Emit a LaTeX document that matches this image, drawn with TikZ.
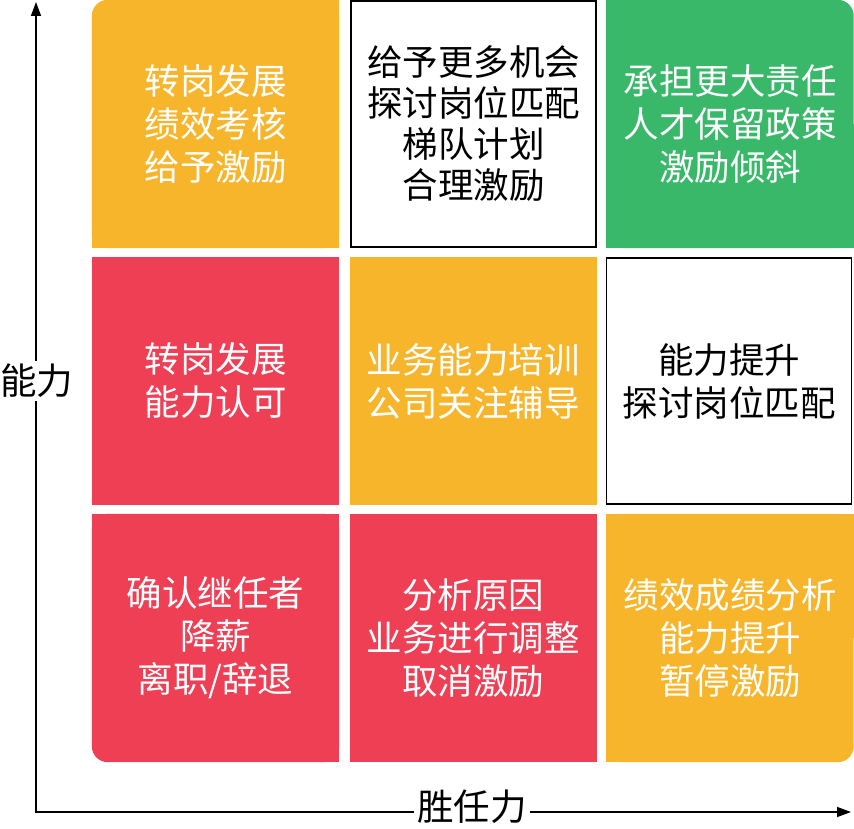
\documentclass[tikz,border=0pt]{standalone}
\usepackage{fontspec}
\newfontfamily\cjk{Noto Sans CJK SC}
\usetikzlibrary{arrows.meta,backgrounds}
\definecolor{cellorange}{HTML}{F7B52B}
\definecolor{cellred}{HTML}{EE3F55}
\definecolor{cellgreen}{HTML}{3AB86A}

\begin{document}
\begin{tikzpicture}[x=1pt, y=-1pt,
    cell/.style={minimum width=247pt, minimum height=248pt, inner sep=0pt, align=center,
        font=\cjk\fontsize{35.5}{43}\selectfont, text=white},
    warm/.style={cell, fill=cellorange},
    hot/.style={cell, fill=cellred},
    plain/.style={cell, text=black, fill=white, draw=black, line width=1.6pt,
        minimum width=245pt, minimum height=246pt},
    axis/.style={line width=1.4pt, {Triangle[length=14pt,width=10pt]}-{Triangle[length=14pt,width=10pt]}},
    axislabel/.style={fill=white, inner sep=3pt, font=\cjk\fontsize{36.5}{40}\selectfont}]
    \useasboundingbox (0,0) rectangle (854,829);

    % Draw the axes
    \coordinate (ytop) at (36,2);
    \coordinate (xend) at (851,812);
    \draw[axis] (ytop) |- (xend);
    \node[axislabel] (ylabel) at (37,381) {能力};
    \node[axislabel] (xlabel) at (472,807) {胜任力};

    % Draw the nine cells
    \node[cell] (c11) at (215.5,124) {转岗发展\\绩效考核\\给予激励};
    \node[plain, font=\cjk\fontsize{35.5}{41}\selectfont] (c12) at (473.5,124)
        {给予更多机会\\探讨岗位匹配\\梯队计划\\合理激励};
    \node[cell] (c13) at (730,124) {承担更大责任\\人才保留政策\\激励倾斜};
    \node[hot] (c21) at (215.5,381) {转岗发展\\能力认可};
    \node[warm] (c22) at (473,381) {业务能力培训\\公司关注辅导};
    \node[plain] (c23) at (729,381) {能力提升\\探讨岗位匹配};
    \node[cell] (c31) at (215.5,638) {确认继任者\\降薪\\离职/辞退};
    \node[hot] (c32) at (473,638) {分析原因\\业务进行调整\\取消激励};
    \node[cell] (c33) at (730,638) {绩效成绩分析\\能力提升\\暂停激励};

    % Fill the corner cells, rounded on the outside only
    \begin{scope}[on background layer]
        \fill[cellorange, rounded corners=16pt] (c11.south west) rectangle (c11.north east);
        \fill[cellorange] (c11.north) rectangle (c11.south east);
        \fill[cellorange] (c11.west) rectangle (c11.south east);

        \fill[cellgreen, rounded corners=16pt] (c13.south west) rectangle (c13.north east);
        \fill[cellgreen] (c13.north west) rectangle (c13.south);
        \fill[cellgreen] (c13.west) rectangle (c13.south east);

        \fill[cellred, rounded corners=16pt] (c31.south west) rectangle (c31.north east);
        \fill[cellred] (c31.north west) rectangle (c31.east);
        \fill[cellred] (c31.north) rectangle (c31.south east);

        \fill[cellorange, rounded corners=16pt] (c33.south west) rectangle (c33.north east);
        \fill[cellorange] (c33.north west) rectangle (c33.east);
        \fill[cellorange] (c33.north west) rectangle (c33.south);
    \end{scope}
\end{tikzpicture}
\end{document}
